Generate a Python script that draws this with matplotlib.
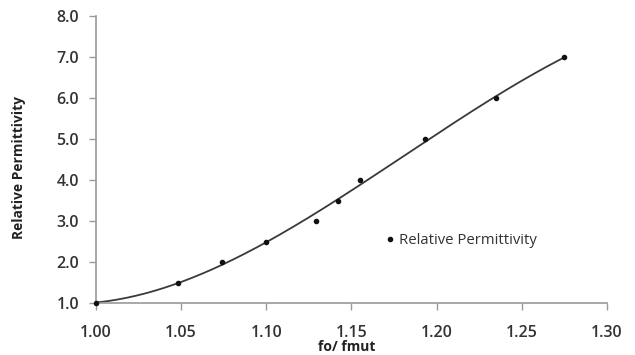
import numpy as np
import matplotlib
matplotlib.use("Agg")
import matplotlib.pyplot as plt

plt.rcParams['font.family'] = ['Open Sans', 'DejaVu Sans']

x_ratio = [1.000, 1.048, 1.074, 1.100, 1.129, 1.142, 1.155, 1.193, 1.235, 1.275]
permittivity = [1.0, 1.5, 2.0, 2.5, 3.0, 3.5, 4.0, 5.0, 6.0, 7.0]
x_ticks = [1.00, 1.05, 1.10, 1.15, 1.20, 1.25, 1.30]
y_ticks = [1.0, 2.0, 3.0, 4.0, 5.0, 6.0, 7.0, 8.0]

fig = plt.figure(figsize=(6.35, 3.55), dpi=100)
ax = fig.add_axes([0.151, 0.146, 0.805, 0.809])

# polynomial trendline (order 3) fitted to the data
coef = np.polyfit(x_ratio, permittivity, 3)
xs = np.linspace(min(x_ratio), max(x_ratio), 200)
ax.plot(xs, np.polyval(coef, xs), color='#3a3a3a', lw=1.3, zorder=2)
ax.plot(x_ratio, permittivity, 'o', color='#111111', ms=3, zorder=3,
        label='Relative Permittivity', linestyle='none', clip_on=False)

ax.set_xlim(1.00, 1.30)
ax.set_ylim(1.0, 8.0)
ax.set_xticks(x_ticks)
ax.set_xticklabels([f"{v:.2f}" for v in x_ticks])
ax.set_yticks(y_ticks)
ax.set_yticklabels([f"{v:.1f}" for v in y_ticks])

for s in ['top', 'right']:
    ax.spines[s].set_visible(False)
for s in ['left', 'bottom']:
    ax.spines[s].set_color('#9a9a9a')
    ax.spines[s].set_linewidth(1.2)
ax.tick_params(axis='both', direction='out', length=5, color='#9a9a9a',
               width=1.0, labelsize=11.5, labelcolor='#333333')
for lab in ax.get_xticklabels() + ax.get_yticklabels():
    lab.set_fontweight('semibold')
ax.tick_params(axis='x', pad=11)
ax.tick_params(axis='y', pad=7)

ax.set_xlabel('fo/ fmut', fontsize=10, fontweight='bold', color='#222222')
ax.xaxis.set_label_coords(0.4915, -0.128)
ax.set_ylabel('Relative Permittivity', fontsize=9.9, fontweight='bold', color='#222222')
ax.yaxis.set_label_coords(-0.136, 0.474)

ax.legend(loc='center left', bbox_to_anchor=(0.54, 0.219), frameon=False,
          fontsize=10.7, handlelength=0.6, handletextpad=0.3, markerscale=1.0,
          labelcolor='#333333')

fig.savefig('out.png', dpi=100)
